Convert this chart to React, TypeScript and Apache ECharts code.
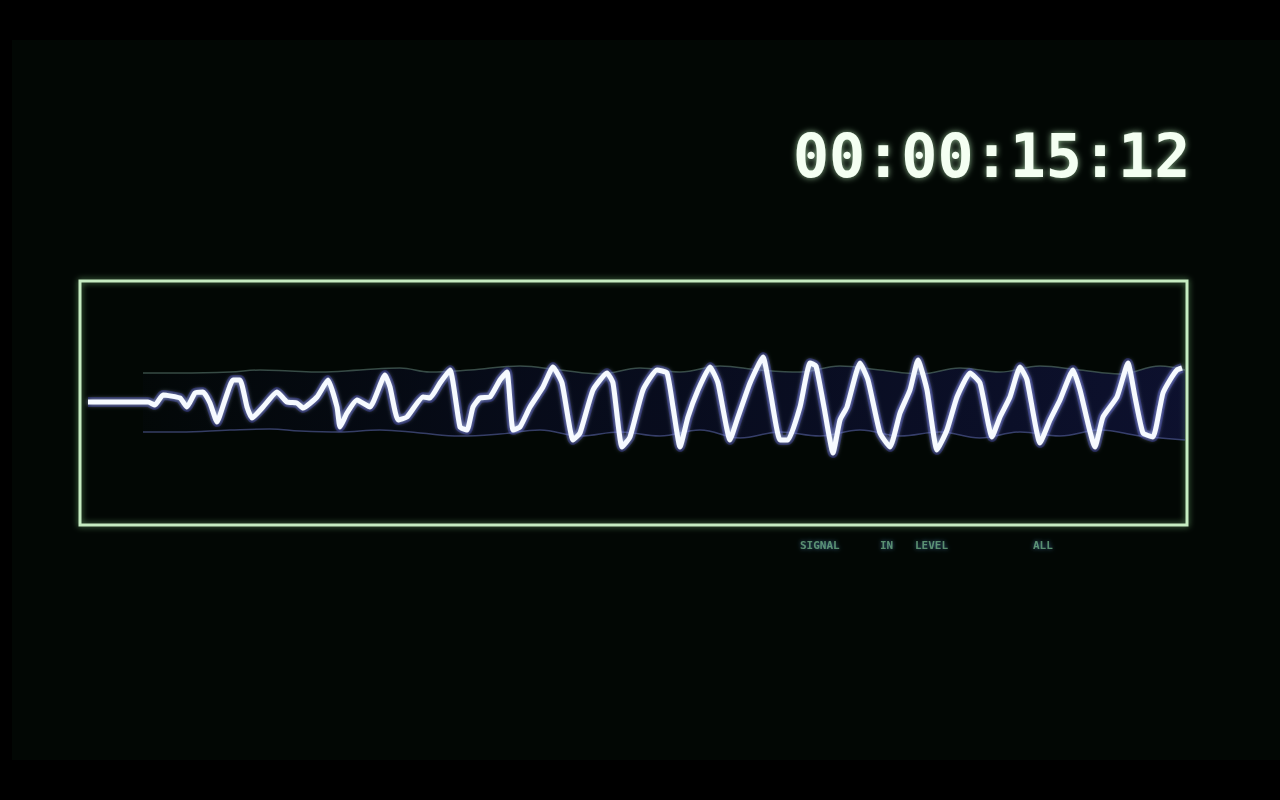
import { useEffect, useRef } from "react";
import * as echarts from "echarts";

// time axis: sample offset from the left edge of the scope frame, amplitude: units above the centre line
const traceT = [
  8, 68, 75, 83, 100, 107, 115, 123, 130, 137, 145, 153, 160, 167, 172, 183, 197, 207, 217, 223,
  237, 248, 257, 260, 267, 277, 290, 305, 310, 318, 327, 343, 350, 360, 370, 380, 387, 393, 400, 410,
  420, 427, 433, 440, 450, 463, 473, 482, 493, 500, 513, 527, 533, 542, 550, 563, 577, 587, 593, 600,
  608, 618, 630, 638, 650, 657, 670, 683, 690, 700, 708, 720, 730, 736, 744, 753, 760, 767, 780, 788,
  800, 810, 820, 830, 838, 847, 857, 867, 877, 890, 900, 912, 920, 930, 940, 947, 960, 970, 980, 993,
  1000, 1015, 1023, 1037, 1048, 1055, 1063, 1073, 1080, 1083, 1090, 1097, 1102,
];
const traceA = [
  1, 1, -2, 8, 5, -4, 10, 11, 0, -19, 3, 23, 23, -4, -15, -4, 11, 1, 0, -5,
  6, 23, -4, -24, -10, 3, -4, 28, 16, -17, -14, 6, 5, 20, 33, -24, -27, -4, 5, 6,
  23, 31, -27, -24, -4, 16, 36, 20, -37, -30, 13, 30, 20, -44, -34, 13, 33, 30, -4, -44,
  -14, 13, 36, 20, -37, -17, 20, 46, 13, -37, -37, -4, 40, 37, -4, -50, -17, -4, 40, 23,
  -30, -44, -10, 13, 43, 13, -47, -27, 6, 30, 20, -34, -14, 6, 36, 23, -40, -17, 3, 33,
  13, -44, -14, 6, 40, 6, -30, -34, -4, 10, 23, 33, 35,
];

// faint upper and lower envelope traces
const upperT = [63, 100, 150, 180, 210, 240, 280, 320, 350, 390, 440, 480, 520, 560, 600, 640, 680, 720, 760, 800, 840, 880, 920, 960, 1000, 1040, 1080, 1105];
const upperA = [30, 30, 31, 33, 32, 31, 33, 35, 31, 33, 37, 33, 29, 35, 31, 37, 33, 31, 37, 33, 29, 35, 31, 37, 33, 29, 37, 33];
const lowerT = [63, 100, 150, 190, 220, 260, 300, 340, 380, 420, 460, 500, 540, 580, 620, 660, 700, 740, 780, 820, 860, 900, 940, 980, 1020, 1060, 1105];
const lowerA = [-29, -29, -27, -26, -28, -29, -27, -30, -33, -31, -27, -33, -29, -33, -27, -35, -29, -33, -27, -33, -29, -35, -29, -33, -27, -33, -37];

const timecode = "00:00:15:12";
const footerWords = ["SIGNAL", "IN", "LEVEL", "ALL"];
const footerX = [788, 868, 903, 1021];

const pairs = (t: number[], a: number[]) => t.map((v, i) => [v, a[i]]);

export default function App() {
  const ref = useRef<HTMLDivElement>(null);

  useEffect(() => {
    document.body.style.margin = "0";
    document.body.style.background = "#000";
    if (!ref.current) return;
    const chart = echarts.init(ref.current, undefined, { renderer: "svg" });
    const blueBand = new echarts.graphic.LinearGradient(0, 0, 1, 0, [
      { offset: 0, color: "rgba(40,40,170,0.03)" },
      { offset: 0.35, color: "rgba(40,40,170,0.18)" },
      { offset: 1, color: "rgba(50,50,190,0.32)" },
    ]);
    chart.setOption({
      animation: false,
      backgroundColor: "#020704",
      grid: {
        left: 68, top: 241, width: 1107, height: 244, show: true,
        borderColor: "#c6ecc2", borderWidth: 3, backgroundColor: "transparent",
        shadowBlur: 6, shadowColor: "rgba(150,230,150,0.6)",
      },
      xAxis: { type: "value", min: 0, max: 1107, show: false },
      yAxis: { type: "value", min: -122, max: 122, show: false },
      series: [
        {
          type: "line", data: pairs(upperT, upperA), symbol: "none", smooth: 0.4,
          lineStyle: { color: "rgba(90,120,110,0.6)", width: 1.5 },
          areaStyle: { color: blueBand, origin: 0 },
        },
        {
          type: "line", data: pairs(lowerT, lowerA), symbol: "none", smooth: 0.4,
          lineStyle: { color: "rgba(80,90,150,0.65)", width: 1.5 },
          areaStyle: { color: blueBand, origin: 0 },
        },
        {
          type: "line", data: pairs(traceT, traceA), symbol: "none", smooth: 0.15,
          lineStyle: { color: "rgba(60,60,200,0.35)", width: 10 },
        },
        {
          type: "line", data: pairs(traceT, traceA), symbol: "none", smooth: 0.15,
          lineStyle: {
            color: "#f6faff", width: 5, shadowBlur: 5, shadowColor: "rgba(200,220,255,0.8)",
          },
        },
      ],
      graphic: [
        {
          type: "text", left: 781, top: 86,
          style: {
            text: timecode, fill: "#f4fff2", fontSize: 60, fontWeight: "bold",
            fontFamily: "DejaVu Sans Mono", textShadowBlur: 6, textShadowColor: "rgba(200,255,200,0.7)",
          },
        },
        ...footerWords.map((w, i) => ({
          type: "text", left: footerX[i], top: 500,
          style: {
            text: w, fill: "rgba(120,190,140,0.7)", fontSize: 11, fontWeight: "bold",
            fontFamily: "DejaVu Sans Mono", textShadowBlur: 4, textShadowColor: "rgba(90,160,220,0.8)",
          },
        })),
      ],
    });
    return () => chart.dispose();
  }, []);

  return (
    <div style={{ position: "relative", width: 1280, height: 800, background: "#000" }}>
      <div ref={ref} style={{ position: "absolute", left: 12, top: 40, width: 1268, height: 720 }} />
    </div>
  );
}
